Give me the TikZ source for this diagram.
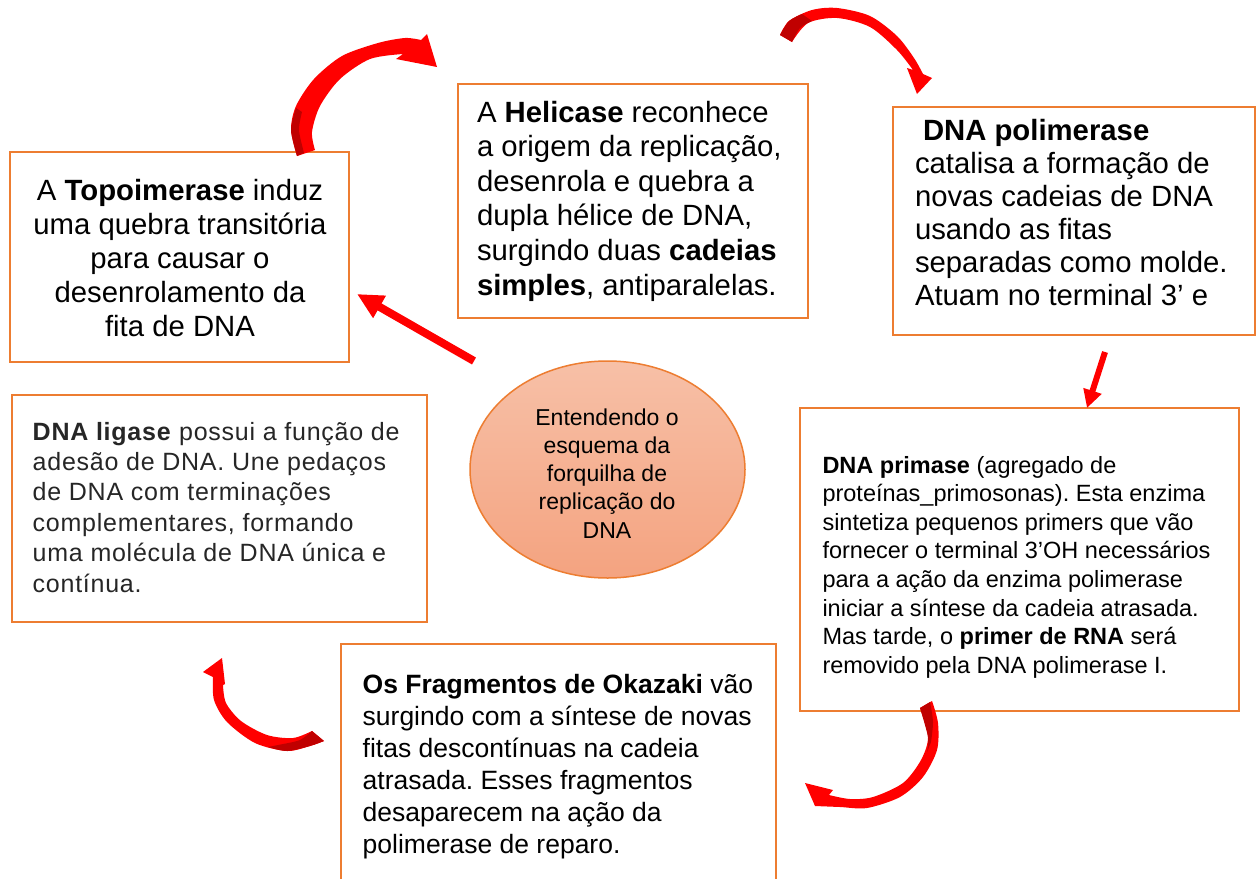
\documentclass[tikz,border=0pt]{standalone}
\usepackage{fontspec}
\setmainfont{Liberation Sans}
\newfontfamily\ligfont[LetterSpace=3]{Liberation Sans}
\usetikzlibrary{arrows.meta,shapes.geometric}
\definecolor{boxorange}{HTML}{ED7D31}
\definecolor{arrowred}{HTML}{FF0000}
\definecolor{darkred}{HTML}{C00000}
\definecolor{elltop}{HTML}{F7C0A7}
\definecolor{ellbot}{HTML}{F4A380}
\definecolor{ligtext}{HTML}{262626}
\newcommand\LeftLines[1]{\vtop{\halign{##\hfil\cr#1\crcr}}}
\newcommand\CenterLines[1]{\vtop{\halign{\hfil##\hfil\cr#1\crcr}}}
\tikzset{
  box/.style={draw=boxorange, line width=2.5pt, fill=white, rectangle, inner sep=0pt, outer sep=0pt},
  txt/.style={inner sep=0pt, outer sep=0pt, anchor=base west},
  ctxt/.style={inner sep=0pt, outer sep=0pt, anchor=base},
  bigfont/.style={font=\fontsize{29.3}{34.2}\selectfont},
  straightarrow/.style={draw=arrowred, line width=8pt, -{Triangle[length=26pt,width=24pt]}},
  thinarrow/.style={draw=arrowred, line width=6pt, -{Triangle[length=18pt,width=18pt]}},
  curvedarrow/.style={fill=arrowred},
  curvedshade/.style={fill=darkred},
}
\frenchspacing
\begin{document}
\begin{tikzpicture}[x=1pt,y=-1pt]
\clip (0,0) rectangle (1258,878);
\fill[white] (0,0) rectangle (1258,878);

% boxes
\node[box, minimum width=339pt, minimum height=210pt] (topo) at (179.5,257) {};
\node[box, minimum width=350pt, minimum height=234pt] (heli) at (633,201) {};
\node[box, minimum width=362pt, minimum height=228pt] (poli) at (1074,221) {};
\node[box, minimum width=439pt, minimum height=303pt] (prim) at (1019.5,559.5) {};
\node[box, minimum width=415pt, minimum height=227pt] (liga) at (219.5,508.5) {};
\node[box, minimum width=435pt, minimum height=240pt] (okaz) at (558.5,764) {};

% central ellipse
\node[ellipse, draw=boxorange, line width=1.5pt, top color=elltop, bottom color=ellbot,
      minimum width=275pt, minimum height=217pt, inner sep=0pt] (centro) at (607.5,469.5) {};

% texts
\node[ctxt, bigfont] (topotext) at (180,200) {\CenterLines{A \textbf{Topoimerase} induz\cr
uma quebra transitória\cr para causar o\cr desenrolamento da\cr fita de DNA}};

\node[txt, font=\fontsize{29.3}{34.6}\selectfont] (helitext) at (477,122) {\LeftLines{A \textbf{Helicase} reconhece\cr
a origem da replicação,\cr desenrola e quebra a\cr dupla hélice de DNA,\cr
surgindo duas \textbf{cadeias}\cr \textbf{simples}, antiparalelas.}};

\node[txt, font=\fontsize{29.3}{33}\selectfont] (politext) at (915,140) {\LeftLines{\hspace{8pt}\textbf{DNA polimerase}\cr
catalisa a formação de\cr novas cadeias de DNA\cr usando as fitas\cr
separadas como molde.\cr Atuam no terminal 3’ e}};

\node[txt, font=\fontsize{23.5}{28.6}\selectfont] (primtext) at (822.5,473) {\LeftLines{\textbf{DNA primase} (agregado de\cr
proteínas\_primosonas). Esta enzima\cr sintetiza pequenos primers que vão\cr
fornecer o terminal 3’OH necessários\cr para a ação da enzima polimerase\cr
iniciar a síntese da cadeia atrasada.\cr Mas tarde, o \textbf{primer de RNA} será\cr
removido pela DNA polimerase I.}};

\node[txt, text=ligtext, font=\ligfont\fontsize{25}{30.4}\selectfont] (ligatext) at (32.7,440) {\LeftLines{\textbf{DNA ligase} possui a função de\cr
adesão de DNA. Une pedaços\cr de DNA com terminações\cr complementares, formando\cr
uma molécula de DNA única e\cr contínua.}};

\node[txt, font=\fontsize{26.5}{32}\selectfont] (okaztext) at (362.7,693) {\LeftLines{\textbf{Os Fragmentos de Okazaki} vão\cr
surgindo com a síntese de novas\cr fitas descontínuas na cadeia\cr atrasada. Esses fragmentos\cr
desaparecem na ação da\cr polimerase de reparo.}};

\node[ctxt, font=\fontsize{23}{28.3}\selectfont] (centrotext) at (607,425) {\CenterLines{Entendendo o\cr
esquema da\cr forquilha de\cr replicação do\cr DNA}};

% straight arrows
\coordinate (a1s) at (474,361);
\coordinate (a1e) at (357,294);
\draw[straightarrow] (a1s) -- (a1e);
\coordinate (a2s) at (1105,352);
\coordinate (a2e) at (1087,408);
\draw[thinarrow] (a2s) -- (a2e);

% curved arrow 1: topoimerase -> helicase
\fill[curvedarrow] plot[smooth] coordinates {(315,150) (312,132) (320,106) (340,79) (370,59) (403,54)}
  -- (396,59) -- (437,67) -- (427,34) -- (421,40)
  -- plot[smooth] coordinates {(421,40) (405,38) (378,43) (342,56) (314,79) (296,106) (291,130) (297,156)} -- cycle;
\fill[curvedshade] plot[smooth] coordinates {(297,156) (291,130) (296,108)}
  -- plot[smooth] coordinates {(302,112) (299,130) (304,153)} -- cycle;

% curved arrow 2: helicase -> polimerase
\fill[curvedarrow] plot[smooth] coordinates {(780,35) (789,21) (812,10) (837,8) (870,16) (897,36) (914,58) (923,74)}
  -- (932,78) -- (917,94) -- (907,68) -- (913,70)
  -- plot[smooth] coordinates {(913,70) (897,50) (870,27) (837,18) (808,23) (792,42)} -- cycle;
\fill[curvedshade] plot[smooth] coordinates {(780,35) (789,21) (802,14)}
  -- (812,21) -- plot[smooth] coordinates {(812,21) (800,28) (792,42)} -- cycle;

% curved arrow 3: primase -> okazaki
\fill[curvedarrow] plot[smooth] coordinates {(932,701) (938,723) (937,750) (923,777) (900,797) (867,808) (840,807) (815,806)}
  -- (805,783) -- (833,790) -- (829,795)
  -- plot[smooth] coordinates {(829,795) (850,799) (873,797) (903,783) (921,760) (928,737) (920,708)} -- cycle;
\fill[curvedshade] plot[smooth] coordinates {(920,708) (928,737) (927,752)}
  -- plot[smooth] coordinates {(931,742) (933,722) (930,702)} -- cycle;

% curved arrow 4: okazaki -> ligase
\fill[curvedarrow] plot[smooth] coordinates {(213,677) (214,700) (227,722) (255,743) (287,751) (310,746) (324,741)}
  -- (312,731)
  -- plot[smooth] coordinates {(312,731) (293,738) (267,735) (241,721) (226,703) (223,685)}
  -- (225,684) -- (222,658) -- (203,672) -- cycle;
\fill[curvedshade] plot[smooth] coordinates {(268,747) (287,751) (310,746) (324,741)}
  -- (312,731) -- plot[smooth] coordinates {(312,731) (300,740) (283,744)} -- cycle;
\end{tikzpicture}
\end{document}
